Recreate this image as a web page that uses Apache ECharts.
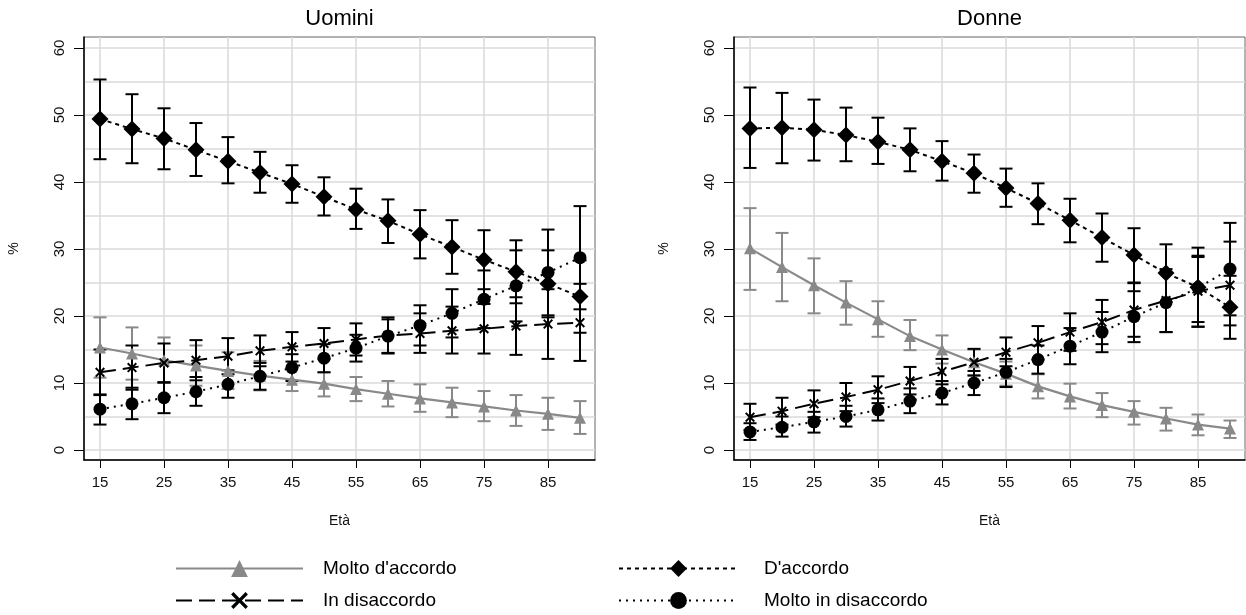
<!DOCTYPE html>
<html><head><meta charset="utf-8">
<script src="https://cdn.jsdelivr.net/npm/echarts@6/dist/echarts.min.js"></script>
<style>html,body{margin:0;padding:0;background:#fff}#c{width:1246px;height:615px}</style>
</head><body><div id="c"></div><script>
// ---------------- DATA ----------------
const ages = [15,20,25,30,35,40,45,50,55,60,65,70,75,80,85,90];
const xTickLabels = [15,25,35,45,55,65,75,85];
const yTickLabels = [0,10,20,30,40,50,60];
const panelTitles = ['Uomini', 'Donne'];
const seriesNames = ["Molto d'accordo", "D'accordo", "In disaccordo", "Molto in disaccordo"];

// Uomini
const uMoltoAccordo    = [15.3,14.4,13.4,12.6,11.8,11.1,10.5, 9.9, 9.1, 8.4, 7.7, 7.1, 6.5, 5.9, 5.4, 4.8];
const uMoltoAccordoLo  = [10.8,10.5,10.0, 9.6, 9.1, 8.9, 8.8, 8.0, 7.3, 6.5, 5.7, 4.9, 4.3, 3.6, 3.0, 2.4];
const uMoltoAccordoHi  = [19.8,18.3,16.8,15.6,14.6,13.3,12.3,11.6,10.9,10.3, 9.8, 9.3, 8.8, 8.2, 7.8, 7.3];
const uAccordo         = [49.4,47.9,46.5,44.8,43.1,41.4,39.7,37.8,35.9,34.2,32.2,30.3,28.4,26.6,24.8,22.9];
const uAccordoLo       = [43.4,42.8,41.9,40.9,39.8,38.4,36.9,35.0,33.0,30.9,28.6,26.3,24.0,21.9,19.8,17.5];
const uAccordoHi       = [55.3,53.1,51.0,48.8,46.7,44.5,42.5,40.7,39.0,37.4,35.8,34.3,32.8,31.3,29.8,28.3];
const uDisaccordo      = [11.6,12.3,13.0,13.4,14.0,14.8,15.4,15.9,16.5,17.1,17.4,17.8,18.1,18.5,18.8,19.0];
const uDisaccordoLo    = [ 8.2, 9.0,10.1,10.4,11.3,12.5,13.2,13.6,14.1,14.4,14.5,14.4,14.4,14.2,13.6,13.3];
const uDisaccordoHi    = [15.0,15.6,15.9,16.4,16.7,17.1,17.6,18.2,18.9,19.8,20.4,21.4,21.8,22.8,24.0,24.8];
const uMoltoDisacc     = [ 6.1, 6.9, 7.8, 8.7, 9.8,11.0,12.3,13.7,15.2,17.0,18.6,20.4,22.5,24.5,26.5,28.7];
const uMoltoDisaccLo   = [ 3.8, 4.6, 5.5, 6.6, 7.8, 9.0,10.3,11.6,13.2,14.5,15.6,16.8,18.2,19.2,20.1,21.0];
const uMoltoDisaccHi   = [ 8.3, 9.3,10.1,10.9,11.9,13.0,14.3,15.8,17.2,19.5,21.6,24.0,26.8,29.8,32.9,36.4];

// Donne
const dMoltoAccordo    = [30.1,27.3,24.6,22.0,19.5,17.0,15.0,13.1,11.4, 9.5, 8.0, 6.7, 5.7, 4.7, 3.8, 3.2];
const dMoltoAccordoLo  = [23.9,22.2,20.4,18.7,16.9,14.9,12.9,11.2, 9.6, 7.7, 6.2, 4.9, 3.8, 2.9, 2.2, 1.8];
const dMoltoAccordoHi  = [36.1,32.4,28.6,25.2,22.2,19.4,17.1,15.0,13.2,11.3, 9.9, 8.5, 7.3, 6.3, 5.3, 4.4];
const dAccordo         = [48.0,48.1,47.8,47.0,46.0,44.8,43.1,41.3,39.1,36.8,34.3,31.7,29.1,26.4,24.3,21.3];
const dAccordoLo       = [42.1,42.8,43.2,43.1,42.7,41.6,40.2,38.4,36.3,33.7,31.0,28.1,25.0,22.1,18.4,16.6];
const dAccordoHi       = [54.1,53.3,52.3,51.1,49.6,48.0,46.1,44.1,42.0,39.8,37.5,35.3,33.1,30.7,30.2,26.0];
const dDisaccordo      = [ 4.9, 5.8, 6.9, 7.9, 9.0,10.3,11.7,13.1,14.6,16.0,17.6,19.1,20.9,22.3,23.7,24.6];
const dDisaccordoLo    = [ 3.0, 3.8, 4.9, 5.8, 7.0, 8.3, 9.8,11.1,12.5,13.5,14.8,15.8,16.9,17.6,18.4,18.6];
const dDisaccordoHi    = [ 6.9, 7.8, 8.9,10.0,11.0,12.4,13.6,15.1,16.8,18.5,20.4,22.4,24.9,27.0,29.0,31.1];
const dMoltoDisacc     = [ 2.7, 3.4, 4.2, 5.0, 6.0, 7.3, 8.5,10.0,11.6,13.5,15.5,17.6,19.9,22.0,24.2,27.0];
const dMoltoDisaccLo   = [ 1.5, 2.0, 2.6, 3.5, 4.4, 5.5, 6.8, 8.2, 9.4,11.4,12.8,14.6,16.1,17.6,19.1,20.1];
const dMoltoDisaccHi   = [ 4.0, 5.0, 5.7, 6.6, 7.7, 9.2,10.3,11.8,13.6,15.6,18.2,20.6,23.7,26.4,28.8,33.9];

const panelData = [
  [[uMoltoAccordo,uMoltoAccordoLo,uMoltoAccordoHi],[uAccordo,uAccordoLo,uAccordoHi],
   [uDisaccordo,uDisaccordoLo,uDisaccordoHi],[uMoltoDisacc,uMoltoDisaccLo,uMoltoDisaccHi]],
  [[dMoltoAccordo,dMoltoAccordoLo,dMoltoAccordoHi],[dAccordo,dAccordoLo,dAccordoHi],
   [dDisaccordo,dDisaccordoLo,dDisaccordoHi],[dMoltoDisacc,dMoltoDisaccLo,dMoltoDisaccHi]]
];

// ---------------- STYLE / LAYOUT ----------------
const FONT = '"Liberation Sans", Arial, sans-serif';
const GRAY = '#898989';
const xPath = 'path://M0,1.4L1.4,0L5,3.6L8.6,0L10,1.4L6.4,5L10,8.6L8.6,10L5,6.4L1.4,10L0,8.6L3.6,5Z';
const styles = [
  {color: GRAY,   symbol: 'triangle', size: 12, type: 'solid',  width: 2.2},
  {color: '#000', symbol: 'diamond',  size: 17, type: [4,4],    width: 2},
  {color: '#000', symbol: xPath,      size: 10, type: [16,7],   width: 2},
  {color: '#000', symbol: 'circle',   size: 13, type: [2,5],    width: 2}
];
const drawOrder = [0, 2, 3, 1];

const frameLefts = [84, 734];
const FR_TOP = 37, FR_H = 423, FR_W = 511;
const X_LO = 12.5, X_HI = 92.34, Y_LO = -1.49, Y_HI = 61.64;
const pxX = FR_W / (X_HI - X_LO), pxY = FR_H / (Y_HI - Y_LO);
const GRIDC = '#dadada';

const grids = [], xAxes = [], yAxes = [], series = [], graphics = [];
const txt = {fontFamily: FONT, color: '#111'};

frameLefts.forEach((L, p) => {
  const gF = grids.length;
  // frame + data grid
  grids.push({left: L, top: FR_TOP, width: FR_W, height: FR_H, show: true,
              borderColor: '#666', borderWidth: 1, backgroundColor: 'transparent'});
  // horizontal gridlines + y ticks grid (0..60)
  grids.push({left: L, top: FR_TOP + (Y_HI - 60) * pxY, width: FR_W, height: 60 * pxY});
  // vertical gridlines + x ticks grid (15..85)
  grids.push({left: L + (15 - X_LO) * pxX, top: FR_TOP, width: 70 * pxX, height: FR_H});

  const xF = xAxes.length;
  xAxes.push({gridIndex: gF, type: 'value', position: 'bottom', min: X_LO, max: X_HI,
    axisLine: {show: true, onZero: false, lineStyle: {color: '#000', width: 1.5}},
    axisTick: {show: false}, axisLabel: {show: false}, splitLine: {show: false},
    name: 'Età', nameLocation: 'middle', nameGap: 54,
    nameTextStyle: Object.assign({fontSize: 14}, txt)});
  xAxes.push({gridIndex: gF + 1, type: 'value', position: 'bottom', min: 0, max: 1, show: false});
  xAxes.push({gridIndex: gF + 2, type: 'value', position: 'bottom',
    min: xTickLabels[0], max: xTickLabels[xTickLabels.length-1], interval: 10,
    axisLine: {show: false}, axisTick: {show: true, length: 8, lineStyle: {color: '#000', width: 1}},
    axisLabel: Object.assign({fontSize: 15, margin: 15}, txt),
    splitLine: {show: true, lineStyle: {color: GRIDC, width: 1.5}}});

  const yF = yAxes.length;
  yAxes.push({gridIndex: gF, type: 'value', position: 'left', min: Y_LO, max: Y_HI,
    axisLine: {show: true, onZero: false, lineStyle: {color: '#000', width: 1.5}},
    axisTick: {show: false}, axisLabel: {show: false}, splitLine: {show: false},
    name: '%', nameLocation: 'middle', nameGap: 63,
    nameTextStyle: Object.assign({fontSize: 14}, txt)});
  yAxes.push({gridIndex: gF + 1, type: 'value', position: 'left', min: 0, max: 60, interval: 5,
    axisLine: {show: false}, axisTick: {show: false}, axisLabel: {show: false},
    splitLine: {show: true, lineStyle: {color: GRIDC, width: 1.5}}});
  yAxes.push({gridIndex: gF + 1, type: 'value', position: 'left',
    min: yTickLabels[0], max: yTickLabels[yTickLabels.length-1], interval: 10,
    axisLine: {show: false}, axisTick: {show: true, length: 10, lineStyle: {color: '#000', width: 1}},
    axisLabel: Object.assign({fontSize: 15, margin: 17, rotate: 90}, txt),
    splitLine: {show: false}});
  yAxes.push({gridIndex: gF + 2, type: 'value', position: 'left', min: 0, max: 1, show: false});

  graphics.push({type: 'text', x: L + FR_W / 2, y: 19,
    style: {text: panelTitles[p], fontSize: 22, fontFamily: FONT, fill: '#000',
            align: 'center', verticalAlign: 'middle'}});

  // line series first (so legend icons come from them)
  drawOrder.forEach(k => {
    const st = styles[k], d = panelData[p][k];
    series.push({type: 'line', name: seriesNames[k], xAxisIndex: xF, yAxisIndex: yF,
      data: ages.map((a, i) => [a, d[0][i]]),
      symbol: st.symbol, symbolSize: st.size, showSymbol: true, z: 4 + k,
      itemStyle: {color: st.color, opacity: 1},
      lineStyle: {color: st.color, width: st.width, type: st.type},
      emphasis: {disabled: true}, silent: true});
  });
  drawOrder.forEach(k => {
    const st = styles[k], d = panelData[p][k];
    series.push({type: 'custom', name: seriesNames[k] + ' IC', xAxisIndex: xF, yAxisIndex: yF,
      data: ages.map((a, i) => [a, d[1][i], d[2][i]]),
      encode: {x: 0, y: [1, 2]}, z: 2, silent: true,
      renderItem: (params, api) => {
        const lo = api.coord([api.value(0), api.value(1)]);
        const hi = api.coord([api.value(0), api.value(2)]);
        const w = 6.5, s = {stroke: st.color, lineWidth: 2};
        return {type: 'group', children: [
          {type: 'line', shape: {x1: lo[0], y1: lo[1], x2: hi[0], y2: hi[1]}, style: s},
          {type: 'line', shape: {x1: hi[0] - w, y1: hi[1], x2: hi[0] + w, y2: hi[1]}, style: s},
          {type: 'line', shape: {x1: lo[0] - w, y1: lo[1], x2: lo[0] + w, y2: lo[1]}, style: s}
        ]};
      }});
  });
});

const option = {
  animation: false,
  backgroundColor: '#fff',
  grid: grids, xAxis: xAxes, yAxis: yAxes, series: series,
  graphic: graphics,
  legend: [
    {data: [seriesNames[0], seriesNames[2]], left: 175, top: 559, orient: 'vertical',
     itemWidth: 127, itemHeight: 21, itemGap: 13, padding: 0, selectedMode: false,
     textStyle: {fontSize: 19, fontFamily: FONT, color: '#000', padding: [0, 0, 0, 15]}},
    {data: [seriesNames[1], seriesNames[3]], left: 618, top: 559, orient: 'vertical',
     itemWidth: 119, itemHeight: 21, itemGap: 13, padding: 0, selectedMode: false,
     textStyle: {fontSize: 19, fontFamily: FONT, color: '#000', padding: [0, 0, 0, 21]}}
  ]
};
const chart = echarts.init(document.getElementById('c'), null, {renderer: 'canvas'});
chart.setOption(option);
</script></body></html>
